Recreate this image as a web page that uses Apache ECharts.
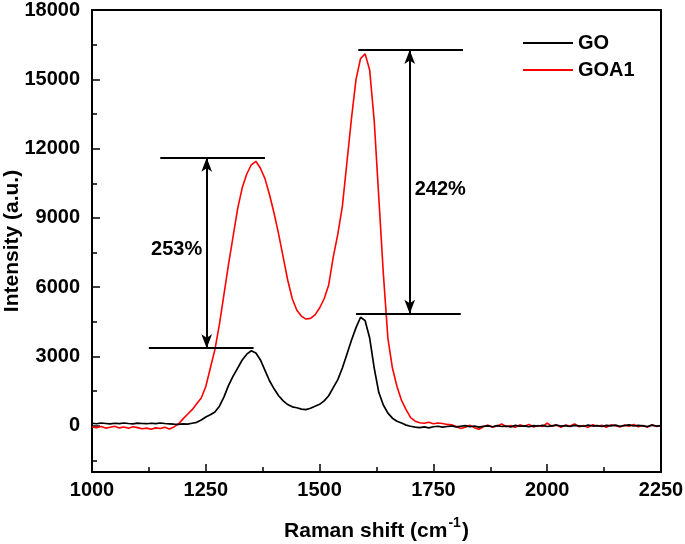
<!DOCTYPE html>
<html>
<head>
<meta charset="utf-8">
<script src="https://cdn.jsdelivr.net/npm/echarts@6/dist/echarts.min.js"></script>
<style>html,body{margin:0;padding:0;background:#fff}#c{width:685px;height:544px}</style>
</head>
<body>
<div id="c"></div>
<script>
// Raman shift grid (cm-1), 10 cm-1 steps from 1000 to 2250
const shiftStart = 1000, shiftStep = 10;
const goIntensity = [
  110,90,120,100,80,110,95,120,100,85,
  115,100,90,110,95,120,100,85,70,60,
  80,70,110,150,250,380,480,600,850,1250,
  1750,2150,2500,2850,3100,3250,3150,2850,2400,1950,
  1600,1300,1080,920,820,780,720,700,760,850,
  930,1080,1300,1650,2000,2500,3100,3700,4250,4700,
  4550,3800,2500,1450,900,550,330,200,120,30,
  -20,-60,-80,-50,-90,-40,-20,-60,-30,-10,
  -50,-20,10,-40,-10,-60,-20,0,-40,10,
  -30,-10,-50,20,-20,0,-40,10,-10,20,
  -30,0,30,-10,10,-30,20,0,-20,30,
  -10,10,-30,20,0,30,-20,10,40,-10,
  20,0,-30,30,-10,10
];
const goa1Intensity = [
  -50,-80,-30,-100,-60,-20,-90,-50,-110,-40,
  -80,-130,-100,-150,-90,-120,-60,-140,-50,80,
  300,500,700,950,1200,1700,2500,3300,4400,5700,
  7000,8200,9400,10300,10900,11300,11450,11150,10700,10000,
  9200,8300,7300,6300,5500,5000,4750,4620,4650,4800,
  5100,5500,6100,7300,8300,9500,11400,13300,15000,15900,
  16100,15400,13200,9900,6600,3800,2500,1700,1100,700,
  350,200,130,110,150,90,120,100,60,40,
  -30,-120,-60,20,-80,-150,-40,30,-60,-10,
  80,-40,10,-70,40,-20,60,-50,10,-30,
  120,-20,40,-60,30,-10,80,-40,10,-70,
  50,-20,20,-60,40,0,-50,30,-20,60,
  -40,10,-60,40,-30,0
];
const seriesNames = ['GO', 'GOA1'];
const yMajorTicks = [0, 3000, 6000, 9000, 12000, 15000, 18000];
const yMinorTicks = [-1500, 1500, 4500, 7500, 10500, 13500, 16500];
// annotation guide lines: [xFrom, xTo, y]
const guideLines = [[1150, 1380, 11600], [1125, 1355, 3360], [1585, 1815, 16270], [1580, 1810, 4850]];
// double arrows: [x, yTop, yBottom]
const arrowLines = [[1252, 11600, 3360], [1698, 16270, 4850]];
// ratio labels: [text, x, y]
const ratioLabels = [['253%', 1186, 7650], ['242%', 1765, 10250]];

const ramanShift = goIntensity.map((_, i) => shiftStart + shiftStep * i);
const pairs = arr => arr.map((v, i) => [ramanShift[i], v]);

const FONT = '"Liberation Sans", Arial, sans-serif';
const lbl = {fontFamily: FONT, fontWeight: 'bold', fontSize: 20, color: '#000'};
const plain = v => String(v);

const markLineData = [];
guideLines.forEach(g => markLineData.push([{coord: [g[0], g[2]], symbol: 'none'}, {coord: [g[1], g[2]], symbol: 'none'}]));
arrowLines.forEach(a => markLineData.push([{coord: [a[0], a[1]], symbol: 'arrow'}, {coord: [a[0], a[2]], symbol: 'arrow'}]));

const chart = echarts.init(document.getElementById('c'), null, {renderer: 'canvas'});
chart.setOption({
  animation: false,
  backgroundColor: '#fff',
  grid: {left: 92, right: 24, top: 10, bottom: 72, containLabel: false, outerBoundsMode: 'none'},
  legend: {
    data: seriesNames, orient: 'vertical', left: 523, top: 33, itemGap: 7, padding: 0,
    itemWidth: 50, itemHeight: 2, icon: 'rect',
    textStyle: {fontFamily: FONT, fontWeight: 'bold', fontSize: 20, lineHeight: 20, color: '#000'}
  },
  xAxis: [{
    type: 'value', position: 'bottom', min: 1000, max: 2250, interval: 250,
    name: '{a|Raman shift (cm}{s|-1}{a|)}', nameLocation: 'middle', nameGap: 44, nameMoveOverlap: false,
    nameTextStyle: {rich: {
      a: {fontFamily: FONT, fontWeight: 'bold', fontSize: 21, color: '#000'},
      s: {fontFamily: FONT, fontWeight: 'bold', fontSize: 14, color: '#000', verticalAlign: 'bottom', padding: [0, 1, 16, 1]}
    }},
    axisLine: {show: true, onZero: false, lineStyle: {color: '#000', width: 2}},
    axisTick: {show: true, inside: true, length: 8, lineStyle: {color: '#000', width: 1.5}},
    minorTick: {show: true, splitNumber: 2, length: 5, lineStyle: {color: '#000', width: 1.5}},
    axisLabel: Object.assign({margin: 8, formatter: plain}, lbl),
    splitLine: {show: false}
  }, {
    type: 'value', position: 'top', min: 1000, max: 2250, interval: 250,
    axisLine: {show: true, onZero: false, lineStyle: {color: '#000', width: 2}},
    axisTick: {show: false}, axisLabel: {show: false}, splitLine: {show: false}
  }],
  yAxis: [{
    type: 'value', position: 'left', min: -2000, max: 18000,
    name: 'Intensity (a.u.)', nameLocation: 'middle', nameGap: 69, nameMoveOverlap: false,
    nameTextStyle: {fontFamily: FONT, fontWeight: 'bold', fontSize: 21, color: '#000'},
    axisLine: {show: true, onZero: false, lineStyle: {color: '#000', width: 2}},
    axisTick: {show: true, inside: true, length: 8, customValues: yMajorTicks, lineStyle: {color: '#000', width: 1.5}},
    axisLabel: Object.assign({margin: 12, customValues: yMajorTicks, formatter: plain}, lbl),
    splitLine: {show: false}
  }, {
    type: 'value', position: 'left', min: -2000, max: 18000,
    axisLine: {show: false},
    axisTick: {show: true, inside: true, length: 5, customValues: yMinorTicks, lineStyle: {color: '#000', width: 1.5}},
    axisLabel: {show: false}, splitLine: {show: false}
  }, {
    type: 'value', position: 'right', min: -2000, max: 18000,
    axisLine: {show: true, onZero: false, lineStyle: {color: '#000', width: 2}},
    axisTick: {show: false}, axisLabel: {show: false}, splitLine: {show: false}
  }],
  series: [{
    name: seriesNames[0], type: 'line', symbol: 'none', data: pairs(goIntensity),
    lineStyle: {color: '#000', width: 1.7}, itemStyle: {color: '#000'}, z: 3,
    markLine: {
      silent: true, symbolSize: [8, 14], precision: 4,
      lineStyle: {color: '#000', width: 2, type: 'solid'}, label: {show: false},
      emphasis: {disabled: true},
      data: markLineData
    },
    markPoint: {
      silent: true, symbol: 'circle', symbolSize: 0,
      label: Object.assign({show: true, position: 'inside', formatter: p => p.name}, lbl),
      data: ratioLabels.map(r => ({name: r[0], coord: [r[1], r[2]]}))
    }
  }, {
    name: seriesNames[1], type: 'line', symbol: 'none', data: pairs(goa1Intensity),
    lineStyle: {color: '#ff0000', width: 1.6}, itemStyle: {color: '#ff0000'}, z: 2
  }]
});
</script>
</body>
</html>
